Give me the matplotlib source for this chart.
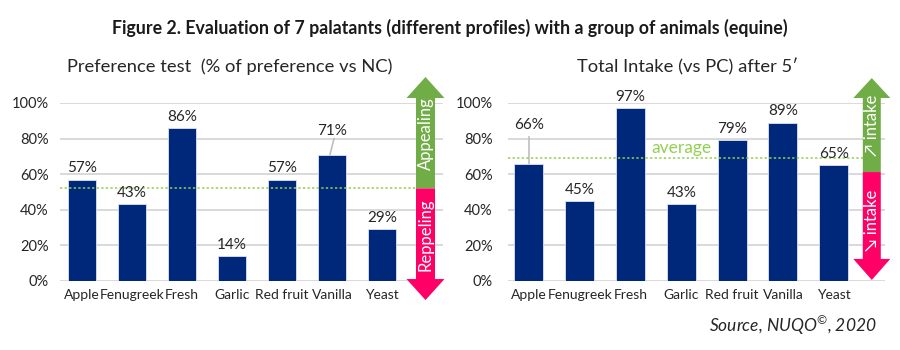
import numpy as np
import matplotlib
matplotlib.use('Agg')
import matplotlib.pyplot as plt
from matplotlib.patches import Polygon

plt.rcParams['font.family'] = ['Lato', 'DejaVu Sans']
plt.rcParams['mathtext.fontset'] = 'custom'
plt.rcParams['mathtext.rm'] = 'Lato'
plt.rcParams['mathtext.it'] = 'Lato:italic'

palatants = ['Apple', 'Fenugreek', 'Fresh', 'Garlic', 'Red fruit', 'Vanilla', 'Yeast']
preference = [0.57, 0.43, 0.86, 0.14, 0.57, 0.71, 0.29]
intake = [0.66, 0.45, 0.97, 0.43, 0.79, 0.89, 0.65]
pref_threshold = 0.52
intake_average = 0.69

NAVY = '#00287A'
GREEN = '#70AD47'
LIGHTGREEN = '#92D050'
PINK = '#FF0066'
GRID = '#D9D9D9'
TXT = '#262626'

fig = plt.figure(figsize=(9, 3.5), dpi=100)


def px_axes(x0, x1, ytop, ybot):
    return fig.add_axes([x0 / 900, 1 - ybot / 350, (x1 - x0) / 900, (ybot - ytop) / 350])


def style(ax, xmin, xmax, pad):
    ax.set_xlim(xmin, xmax)
    ax.set_ylim(0, 1)
    ax.set_yticks(np.arange(0, 1.01, 0.2))
    ax.set_yticklabels([f'{int(round(v * 100))}%' for v in np.arange(0, 1.01, 0.2)])
    ax.set_xticks(range(len(palatants)))
    ax.set_xticklabels(palatants)
    ax.tick_params(length=0, colors=TXT)
    ax.tick_params(axis='y', pad=pad, labelsize=10.5)
    ax.tick_params(axis='x', pad=6, labelsize=10)
    ax.yaxis.grid(True, color=GRID, lw=1.4)
    ax.set_axisbelow(True)
    for s in ax.spines.values():
        s.set_visible(False)
    ax.patch.set_alpha(0)


def arrow(ax, xc, ymid, top_base, top_tip, bot_base, bot_tip, hw, sw):
    up = [(xc - sw, ymid), (xc - sw, top_base), (xc - hw, top_base), (xc, top_tip),
          (xc + hw, top_base), (xc + sw, top_base), (xc + sw, ymid)]
    dn = [(xc - sw, ymid), (xc - sw, bot_base), (xc - hw, bot_base), (xc, bot_tip),
          (xc + hw, bot_base), (xc + sw, bot_base), (xc + sw, ymid)]
    ax.add_patch(Polygon(up, closed=True, fc=GREEN, ec='none', clip_on=False, zorder=4))
    ax.add_patch(Polygon(dn, closed=True, fc=PINK, ec='none', clip_on=False, zorder=4))


x = np.arange(len(palatants))

# left panel
ax1 = px_axes(60, 443, 103, 281)
style(ax1, -0.44, 7.22, 8)
ax1.bar(x, preference, width=0.56, color=NAVY, edgecolor='#DDE3F0', lw=0.6, zorder=2)
ax1.plot([-0.44, 6.7], [pref_threshold] * 2, ls=(0, (1.5, 1.5)), color=LIGHTGREEN, lw=1.1, zorder=3)
for i, v in enumerate(preference):
    if palatants[i] == 'Vanilla':
        ax1.text(i, 0.84, f'{int(round(v * 100))}%', ha='center', va='center', fontsize=11, color=TXT)
        ax1.plot([i + 0.04, i - 0.04], [0.80, v], color='#BFBFBF', lw=1.2, zorder=1)
    else:
        ax1.annotate(f'{int(round(v * 100))}%', (i, v), xytext=(0, 3), textcoords='offset points',
                     ha='center', va='bottom', fontsize=11, color=TXT)
arrow(ax1, 6.87, pref_threshold, 1.028, 1.146, 0.011, -0.107, 0.38, 0.19)
ax1.text(6.87, 0.83, 'Appealing', rotation=90, ha='center', va='center', color='white', fontsize=12, zorder=5)
ax1.text(6.87, 0.26, 'Reppeling', rotation=90, ha='center', va='center', color='white', fontsize=12, zorder=5)

# right panel
ax2 = px_axes(508, 885, 103, 281)
style(ax2, -0.41, 7.01, 11)
ax2.bar(x, intake, width=0.57, color=NAVY, edgecolor='#DDE3F0', lw=0.6, zorder=2)
ax2.plot([-0.41, 6.6], [intake_average] * 2, ls=(0, (1.5, 1.5)), color=LIGHTGREEN, lw=1.1, zorder=3)
ax2.text(3.0, intake_average + 0.012, 'average', ha='center', va='bottom', color=LIGHTGREEN, fontsize=12.5, zorder=3)
for i, v in enumerate(intake):
    if palatants[i] == 'Apple':
        ax2.text(i, 0.876, f'{int(round(v * 100))}%', ha='center', va='center', fontsize=11, color=TXT)
        ax2.plot([i, i], [0.81, v], color='#BFBFBF', lw=1.2, zorder=1)
    else:
        ax2.annotate(f'{int(round(v * 100))}%', (i, v), xytext=(0, 3), textcoords='offset points',
                     ha='center', va='bottom', fontsize=11, color=TXT)
arrow(ax2, 6.75, 0.612, 1.028, 1.14, 0.124, 0.006, 0.364, 0.177)
ax2.text(6.75, 0.876, '\u2197 intake', rotation=90, ha='center', va='center', color='white', fontsize=12, zorder=5)
ax2.text(6.75, 0.343, '\u2198 intake', rotation=90, ha='center', va='center', color='white', fontsize=12, zorder=5)

fig.text(0.5, 1 - 28 / 350, 'Figure 2. Evaluation of 7 palatants (different profiles) with a group of animals (equine)',
         ha='center', va='center', fontsize=12.8, fontweight='bold', color='#1a1a1a')
fig.text(230 / 900, 1 - 67 / 350, 'Preference test  (% of preference vs NC)', ha='center', va='center',
         fontsize=13.2, color=TXT)
fig.text(688 / 900, 1 - 67 / 350, 'Total Intake (vs PC) after 5\u2032', ha='center', va='center',
         fontsize=13.2, color=TXT)
fig.text(877 / 900, 1 - 325 / 350, 'Source, NUQO$^{\u00a9}$, 2020', ha='right', va='center',
         fontsize=12.5, style='italic', color=TXT)

fig.savefig('out.png', dpi=100)
